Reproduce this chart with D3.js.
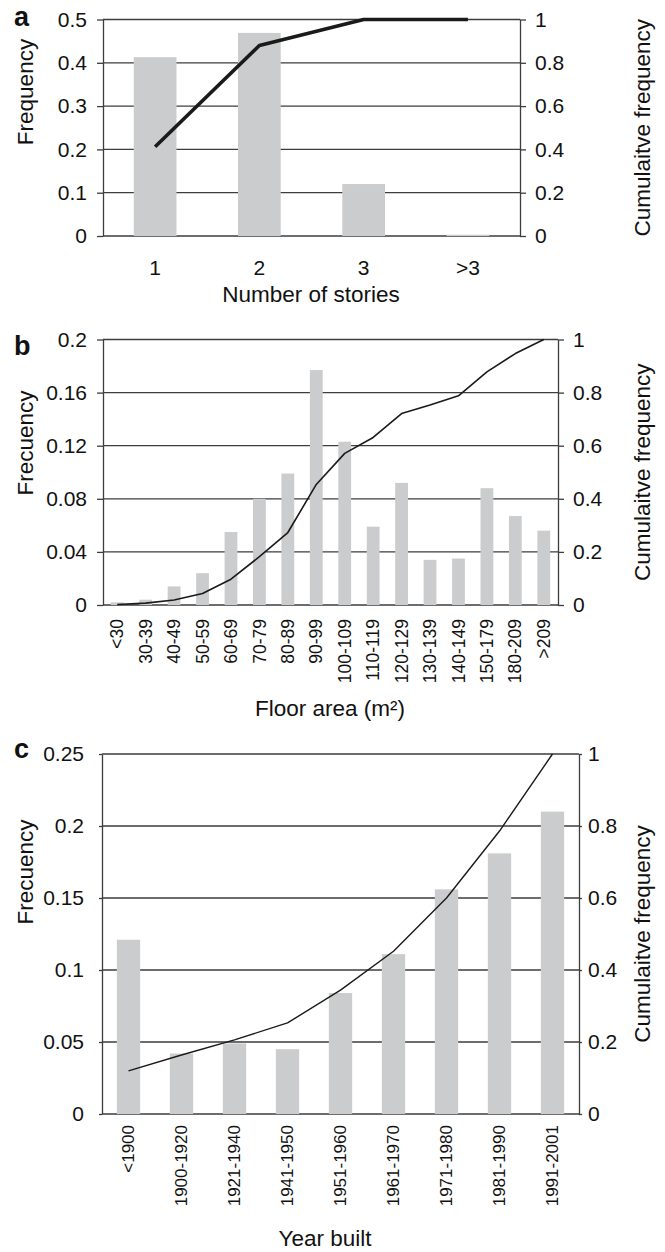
<!DOCTYPE html>
<html>
<head>
<meta charset="utf-8">
<script src="https://cdn.jsdelivr.net/npm/d3@7"></script>
<style>
  body { margin: 0; background: #fff; }
  svg { display: block; font-family: "Liberation Sans", Arial, sans-serif; }
</style>
</head>
<body>
<div id="chart"></div>
<script>
// a - number of stories
const storyCats = ["1", "2", "3", ">3"];
const storyFreq = [0.413, 0.469, 0.12, 0.003];
const storyCum = [0.412, 0.88, 1.0, 1.0];
const storyTicks = [0, 0.1, 0.2, 0.3, 0.4, 0.5];

// b - floor area
const areaCats = ["<30", "30-39", "40-49", "50-59", "60-69", "70-79", "80-89", "90-99",
  "100-109", "110-119", "120-129", "130-139", "140-149", "150-179", "180-209", ">209"];
const areaFreq = [0.002, 0.004, 0.014, 0.024, 0.055, 0.08, 0.099, 0.177,
  0.123, 0.059, 0.092, 0.034, 0.035, 0.088, 0.067, 0.056];
const areaCum = [0.002, 0.007, 0.019, 0.043, 0.097, 0.182, 0.273, 0.454,
  0.571, 0.631, 0.721, 0.753, 0.788, 0.878, 0.947, 1.0];
const areaTicks = [0, 0.04, 0.08, 0.12, 0.16, 0.2];

// c - year built
const yearCats = ["<1900", "1900-1920", "1921-1940", "1941-1950", "1951-1960",
  "1961-1970", "1971-1980", "1981-1990", "1991-2001"];
const yearFreq = [0.121, 0.042, 0.049, 0.045, 0.084, 0.111, 0.156, 0.181, 0.21];
const yearCum = [0.12, 0.164, 0.206, 0.253, 0.344, 0.452, 0.6, 0.786, 1.0];
const yearTicks = [0, 0.05, 0.1, 0.15, 0.2, 0.25];

const cumTicks = [0, 0.2, 0.4, 0.6, 0.8, 1];

const W = 665, H = 1252;
const svg = d3.select("#chart").append("svg")
  .attr("width", W)
  .attr("height", H);
svg.append("rect").attr("width", W).attr("height", H).attr("fill", "#fff");

const gridColor = "#3d3d3d";

function drawPanel(p) {
  const g = svg.append("g");

  const x = d3.scaleBand()
    .domain(p.cats)
    .range([p.left, p.right])
    .paddingInner(p.pad)
    .paddingOuter(p.pad / 2);

  const y = d3.scaleLinear().domain([0, d3.max(p.ticks)]).range([p.bottom, p.top]);
  const y2 = d3.scaleLinear().domain([0, 1]).range([p.bottom, p.top]);

  // grid lines
  g.append("g").selectAll("line")
    .data(p.ticks)
    .join("line")
    .attr("x1", p.left)
    .attr("x2", p.right)
    .attr("y1", d => y(d))
    .attr("y2", d => y(d))
    .attr("stroke", gridColor)
    .attr("stroke-width", 1.3);

  // bars
  g.append("g").selectAll("rect")
    .data(p.freq)
    .join("rect")
    .attr("x", (d, i) => x(p.cats[i]))
    .attr("y", d => y(d))
    .attr("width", x.bandwidth())
    .attr("height", d => p.bottom - y(d))
    .attr("fill", "#cbcccd");

  // left axis
  const la = g.append("g")
    .attr("transform", `translate(${p.left},0)`)
    .call(d3.axisLeft(y).tickValues(p.ticks).tickFormat(d => String(d))
      .tickSize(p.tick).tickSizeOuter(0).tickPadding(p.lpad));
  // right axis
  const ra = g.append("g")
    .attr("transform", `translate(${p.right},0)`)
    .call(d3.axisRight(y2).tickValues(cumTicks).tickFormat(d => String(d))
      .tickSize(p.tick).tickSizeOuter(0).tickPadding(p.rpad));
  [la, ra].forEach(a => {
    a.selectAll("path, line").attr("stroke", gridColor).attr("stroke-width", 1.3);
    a.selectAll("text").attr("fill", "#111").style("font-size", "21px")
      .style("font-family", "'Liberation Sans', Arial, sans-serif");
  });

  // category labels
  const cx = d => x(d) + x.bandwidth() / 2;
  if (p.rotate) {
    g.append("g").selectAll("text")
      .data(p.cats)
      .join("text")
      .attr("transform", d => `translate(${cx(d)},${p.bottom + p.labelGap}) rotate(-90)`)
      .attr("text-anchor", "end")
      .attr("dy", "0.35em")
      .style("font-size", p.labelSize + "px")
      .attr("fill", "#111")
      .text(d => d);
  } else {
    g.append("g").selectAll("text")
      .data(p.cats)
      .join("text")
      .attr("x", cx)
      .attr("y", p.bottom + p.labelGap)
      .attr("text-anchor", "middle")
      .style("font-size", p.labelSize + "px")
      .attr("fill", "#111")
      .text(d => d);
  }

  // cumulative line
  const line = d3.line()
    .x((d, i) => cx(p.cats[i]))
    .y(d => y2(d));
  g.append("path")
    .datum(p.cum)
    .attr("fill", "none")
    .attr("stroke", "#1a1a1a")
    .attr("stroke-width", p.lineWidth)
    .attr("stroke-linejoin", "round")
    .attr("d", line);

  // titles
  g.append("text")
    .attr("x", 14)
    .attr("y", p.letterY)
    .style("font-size", "27px")
    .style("font-weight", "bold")
    .attr("fill", "#111")
    .text(p.letter);
  g.append("text")
    .attr("transform", `translate(33,${p.yTitleY}) rotate(-90)`)
    .attr("text-anchor", "middle")
    .style("font-size", "22.5px")
    .attr("fill", "#111")
    .text(p.yTitle);
  g.append("text")
    .attr("transform", `translate(650,${(p.top + p.bottom) / 2}) rotate(-90)`)
    .attr("text-anchor", "middle")
    .style("font-size", "22.5px")
    .attr("fill", "#111")
    .text("Cumulaitve frequency");
  g.append("text")
    .attr("x", p.xTitleX)
    .attr("y", p.xTitleY)
    .attr("text-anchor", "middle")
    .style("font-size", "22.5px")
    .attr("fill", "#111")
    .text(p.xTitle);
}

drawPanel({
  cats: storyCats, freq: storyFreq, cum: storyCum, ticks: storyTicks,
  left: 103, right: 520, top: 19.5, bottom: 236, pad: 0.59,
  tick: 6, lpad: 10, rpad: 9, rotate: false, labelGap: 39, labelSize: 21,
  lineWidth: 3.6, letter: "a", letterY: 26, yTitle: "Frequency", yTitleY: 92,
  xTitle: "Number of stories", xTitleX: 311, xTitleY: 302
});

drawPanel({
  cats: areaCats, freq: areaFreq, cum: areaCum, ticks: areaTicks,
  left: 103, right: 558, top: 339.5, bottom: 605, pad: 0.55,
  tick: 6, lpad: 10, rpad: 9, rotate: true, labelGap: 14, labelSize: 17.5,
  lineWidth: 1.6, letter: "b", letterY: 355, yTitle: "Frecuency", yTitleY: 443,
  xTitle: "Floor area (m²)", xTitleX: 330, xTitleY: 716
});

drawPanel({
  cats: yearCats, freq: yearFreq, cum: yearCum, ticks: yearTicks,
  left: 102, right: 579, top: 754, bottom: 1114, pad: 0.56,
  tick: 3, lpad: 15, rpad: 6, rotate: true, labelGap: 11, labelSize: 17,
  lineWidth: 1.4, letter: "c", letterY: 758, yTitle: "Frecuency", yTitleY: 872,
  xTitle: "Year built", xTitleX: 325, xTitleY: 1246
});
</script>
</body>
</html>
